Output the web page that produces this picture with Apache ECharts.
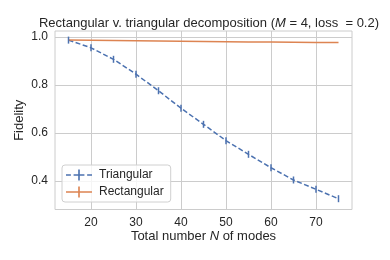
<!DOCTYPE html>
<html><head><meta charset="utf-8">
<script src="https://cdn.jsdelivr.net/npm/echarts@6/dist/echarts.min.js"></script>
<style>html,body{margin:0;padding:0;background:#fff}#c{width:390px;height:260px}</style>
</head><body><div id="c"></div>
<script>
const modes = [15,20,25,30,35,40,45,50,55,60,65,70,75];
const triangular = [0.987,0.955,0.907,0.845,0.776,0.703,0.636,0.568,0.511,0.455,0.404,0.365,0.326];
const rectangular = [0.987,0.986,0.985,0.984,0.983,0.982,0.981,0.980,0.979,0.979,0.978,0.977,0.977];
const xTicks = [20,30,40,50,60,70];
const yTicks = [0.4,0.6,0.8,1.0];

const font = 'Liberation Sans, Arial, sans-serif';
const txt = '#262626';
const chart = echarts.init(document.getElementById('c'), null, {renderer:'canvas'});
const pair = (xs, ys) => xs.map((x,i)=>[x, ys[i]]);
// legend icons: line + vertical error-bar tick (24x10 box)
const dashedIcon = 'path://M0,4.25h4.5v1.5h-4.5z M7,4.25h4.25v1.5h-4.25z M11.25,0h1.5v10h-1.5z M12.75,4.25h4.25v1.5h-4.25z M19.5,4.25h4.5v1.5h-4.5z';
const solidIcon = 'path://M0,4.25h24v1.5h-24z M11.25,0h1.5v10h-1.5z';
const rich = {n:{fontFamily:font,fontSize:13,color:txt},i:{fontFamily:font,fontSize:13,fontStyle:'italic',color:txt}};
chart.setOption({
  animation:false,
  backgroundColor:'#fff',
  title:{
    text:'{n|Rectangular v. triangular decomposition (}{i|M}{n| = 4, loss  = 0.2)}',
    left:204, top:12, textAlign:'center',
    textStyle:{fontWeight:'normal', rich:rich}
  },
  grid:{left:55,right:38,top:31,bottom:50.5,show:true,borderColor:'#cccccc',borderWidth:1},
  xAxis:{
    type:'value', min:12, max:78,
    name:'{n|Total number }{i|N}{n| of modes}', nameLocation:'middle', nameGap:20,
    nameMoveOverlap:false,
    nameTextStyle:{rich:rich},
    axisLine:{show:false}, axisTick:{show:false, customValues:xTicks},
    axisLabel:{customValues:xTicks, fontFamily:font, fontSize:12, color:txt, margin:7},
    splitLine:{show:true, lineStyle:{color:'#cccccc',width:1}}
  },
  yAxis:{
    type:'value', min:0.281, max:1.025,
    name:'Fidelity', nameLocation:'middle', nameGap:29,
    nameMoveOverlap:false,
    nameTextStyle:{fontFamily:font,fontSize:13,color:txt},
    axisLine:{show:false}, axisTick:{show:false, customValues:yTicks},
    axisLabel:{customValues:yTicks, formatter:v=>v.toFixed(1), fontFamily:font, fontSize:12, color:txt, margin:7},
    splitLine:{show:true, lineStyle:{color:'#cccccc',width:1}}
  },
  legend:{
    orient:'vertical', left:62, top:165,
    padding:[4,7,4,4], itemGap:5, itemWidth:26, itemHeight:12,
    borderColor:'#d0d0d0', borderWidth:1, borderRadius:3, backgroundColor:'rgba(255,255,255,0.8)',
    textStyle:{fontFamily:font,fontSize:12,color:txt,padding:[0,0,0,2]},
    data:[{name:'Triangular',icon:dashedIcon},{name:'Rectangular',icon:solidIcon}]
  },
  series:[
    {name:'Triangular', type:'line', data:pair(modes,triangular),
     lineStyle:{color:'#4c72b0',width:1.5,type:[5,2.5]}, itemStyle:{color:'#4c72b0'},
     symbol:'rect', symbolSize:[1.5,7], showSymbol:true},
    {name:'Rectangular', type:'line', data:pair(modes,rectangular),
     lineStyle:{color:'#dd8452',width:1.5}, itemStyle:{color:'#dd8452'},
     symbol:'none', showSymbol:false}
  ]
});
</script></body></html>
